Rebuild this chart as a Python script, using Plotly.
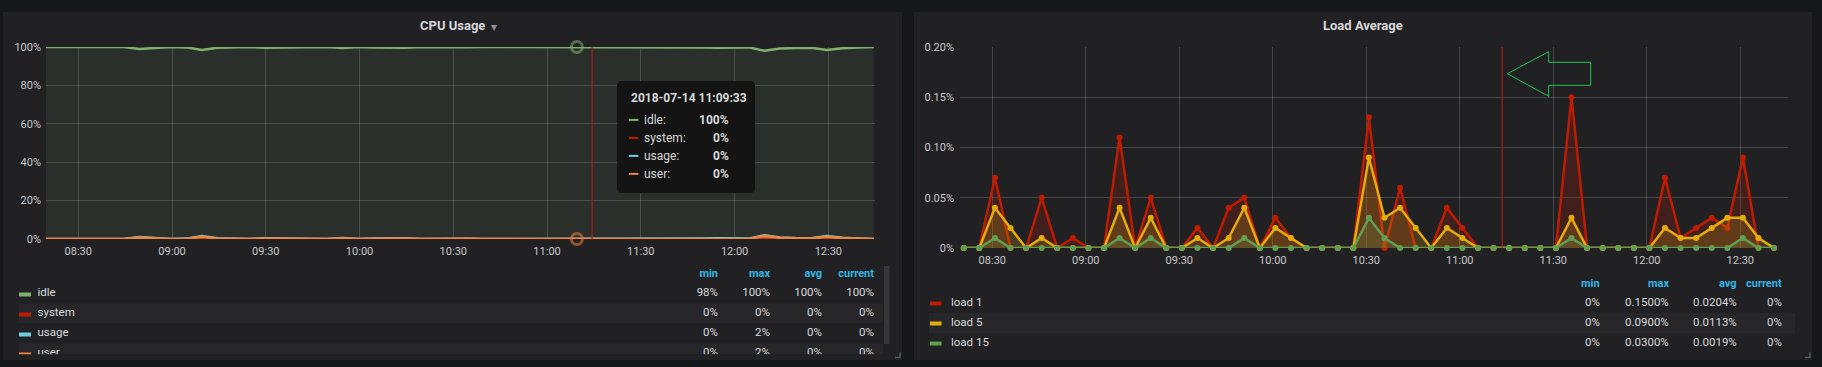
import plotly.graph_objects as go
import pandas as pd

W, H = 1822, 367

# ---------------- data ----------------
cpu_times = pd.date_range("2018-07-14 08:19:33", periods=54, freq="5min")
cpu_idle = [100, 100, 100, 99.7, 99.7, 100, 99.0, 99.5, 100, 99.8,
            98.5, 99.6, 99.8, 100, 99.6, 99.7, 99.8, 100, 100, 99.5,
            100, 99.8, 99.7, 99.6, 100, 99.9, 100, 99.9, 100, 100,
            100, 100, 100, 100, 100, 99.9, 99.8, 99.8, 99.9, 100,
            100, 99.8, 99.7, 99.6, 99.7, 99.8, 98.0, 99.2, 99.5, 99.6,
            98.5, 99.4, 99.7, 100]
cpu_system = [0, 0, 0, 0.1, 0.1, 0, 0.2, 0.1, 0, 0.1,
              0.3, 0.1, 0.1, 0, 0.1, 0.1, 0.1, 0, 0, 0.1,
              0, 0.1, 0.1, 0.1, 0, 0, 0, 0, 0, 0,
              0, 0, 0, 0, 0, 0, 0.1, 0.1, 0, 0,
              0, 0.1, 0.1, 0.1, 0.1, 0.1, 0.4, 0.2, 0.1, 0.1,
              0.3, 0.1, 0.1, 0]
cpu_usage = [0, 0, 0, 0.3, 0.3, 0, 1.0, 0.5, 0, 0.2,
             1.5, 0.4, 0.2, 0, 0.4, 0.3, 0.2, 0, 0, 0.5,
             0, 0.2, 0.3, 0.4, 0, 0.1, 0, 0.1, 0, 0,
             0, 0, 0, 0, 0, 0.1, 0.2, 0.2, 0.1, 0,
             0, 0.2, 0.3, 0.4, 0.3, 0.2, 2.0, 0.8, 0.5, 0.4,
             1.5, 0.6, 0.3, 0]
cpu_user = [0, 0, 0, 0.2, 0.2, 0, 0.8, 0.4, 0, 0.1,
            1.2, 0.3, 0.1, 0, 0.3, 0.2, 0.1, 0, 0, 0.4,
            0, 0.1, 0.2, 0.3, 0, 0.1, 0, 0.1, 0, 0,
            0, 0, 0, 0, 0, 0.1, 0.1, 0.1, 0.1, 0,
            0, 0.1, 0.2, 0.3, 0.2, 0.1, 1.6, 0.6, 0.4, 0.3,
            1.2, 0.5, 0.2, 0]

load_times = pd.date_range("2018-07-14 08:20:50", periods=53, freq="5min")
load1 = [0, 0, 0.07, 0, 0, 0.05, 0, 0.01, 0, 0,
         0.11, 0, 0.05, 0, 0, 0.02, 0, 0.04, 0.05, 0,
         0.03, 0.01, 0, 0, 0, 0, 0.13, 0, 0.06, 0,
         0, 0.04, 0.02, 0, 0, 0, 0, 0, 0, 0.15,
         0, 0, 0, 0, 0, 0.07, 0.01, 0.02, 0.03, 0.02,
         0.09, 0, 0]
load5 = [0, 0, 0.04, 0.02, 0, 0.01, 0, 0, 0, 0,
         0.04, 0, 0.03, 0, 0, 0.01, 0, 0.01, 0.04, 0,
         0.02, 0.01, 0, 0, 0, 0, 0.09, 0.03, 0.04, 0.02,
         0, 0.02, 0.01, 0, 0, 0, 0, 0, 0, 0.03,
         0, 0, 0, 0, 0, 0.02, 0.01, 0.01, 0.02, 0.03,
         0.03, 0.01, 0]
load15 = [0, 0, 0.01, 0, 0, 0, 0, 0, 0, 0,
          0.01, 0, 0.01, 0, 0, 0, 0, 0, 0.01, 0,
          0, 0, 0, 0, 0, 0, 0.03, 0.01, 0, 0,
          0, 0, 0, 0, 0, 0, 0, 0, 0, 0.01,
          0, 0, 0, 0, 0, 0, 0, 0, 0, 0,
          0.01, 0, 0]

cpu_names = ["idle", "system", "usage", "user"]
cpu_series = [cpu_idle, cpu_system, cpu_usage, cpu_user]
cpu_colors = ["#7EB26D", "#BF1B00", "#6ED0E0", "#EF843C"]
load_names = ["load 1", "load 5", "load 15"]
load_series = [load1, load5, load15]
load_colors = ["#BF1B00", "#E5AC0E", "#629E51"]

cpu_yticks = [0, 20, 40, 60, 80, 100]
cpu_yticklabels = ["0%", "20%", "40%", "60%", "80%", "100%"]
load_yticks = [0, 0.05, 0.10, 0.15, 0.20]
load_yticklabels = ["0%", "0.05%", "0.10%", "0.15%", "0.20%"]
stat_headers = ["min", "max", "avg", "current"]

hover_index = 34
crosshair_left = "2018-07-14 11:14:24"
crosshair_right = "2018-07-14 11:13:36"

# ---------------- style ----------------
FONT = "Roboto, Helvetica, Arial, sans-serif"
PAGE_BG = "#161719"
PANEL_BG = "#212124"
ROW_BG = "#27272a"
TXT = "#d8d9da"
TICK = "#c8c8c8"
GRID = "rgba(255,255,255,0.17)"
HEAD = "#33b5e5"


def px(x):
    return x / W


def py(y):
    return 1 - y / H


def rgba(hexc, a):
    h = hexc.lstrip("#")
    return "rgba(%d,%d,%d,%s)" % (int(h[0:2], 16), int(h[2:4], 16), int(h[4:6], 16), a)


fig = go.Figure()

# CPU traces
for name, ser, col in zip(cpu_names, cpu_series, cpu_colors):
    fig.add_trace(go.Scatter(x=cpu_times, y=ser, mode="lines", name=name,
                             line=dict(color=col, width=2.5), fill="tozeroy",
                             fillcolor=rgba(col, 0.1), xaxis="x", yaxis="y",
                             hoverinfo="skip", showlegend=False))
# hover markers
for ser, col in [(cpu_idle, cpu_colors[0]), (cpu_user, cpu_colors[3])]:
    fig.add_trace(go.Scatter(x=[cpu_times[hover_index]], y=[ser[hover_index]], mode="markers",
                             marker=dict(symbol="circle-open", size=11, color=rgba(col, 0.55),
                                         line=dict(color=rgba(col, 0.55), width=3)),
                             xaxis="x", yaxis="y", hoverinfo="skip", showlegend=False,
                             cliponaxis=False))

# Load traces
for name, ser, col in zip(load_names, load_series, load_colors):
    fig.add_trace(go.Scatter(x=load_times, y=ser, mode="lines+markers", name=name,
                             line=dict(color=col, width=2.5),
                             marker=dict(color=col, size=6),
                             fill="tozeroy", fillcolor=rgba(col, 0.2),
                             xaxis="x2", yaxis="y2", hoverinfo="skip", showlegend=False,
                             cliponaxis=False))

shapes = []
annotations = []

# panels
for x0, x1 in [(3, 902), (914, 1812)]:
    shapes.append(dict(type="rect", xref="paper", yref="paper", x0=px(x0), x1=px(x1),
                       y0=py(360), y1=py(12), fillcolor=PANEL_BG, line=dict(width=0), layer="below"))

# titles
annotations.append(dict(text="<b>CPU Usage</b>", x=px(452), y=py(25.5), xref="paper", yref="paper",
                        showarrow=False, font=dict(family=FONT, size=13, color=TXT),
                        xanchor="center", yanchor="middle"))
annotations.append(dict(text="▾", x=px(494), y=py(26.5), xref="paper", yref="paper",
                        showarrow=False, font=dict(family=FONT, size=12, color="#8e8e8e"),
                        xanchor="center", yanchor="middle"))
annotations.append(dict(text="<b>Load Average</b>", x=px(1363), y=py(25.5), xref="paper", yref="paper",
                        showarrow=False, font=dict(family=FONT, size=13, color=TXT),
                        xanchor="center", yanchor="middle"))

# crosshairs
shapes.append(dict(type="line", xref="x", yref="y domain", x0=crosshair_left, x1=crosshair_left,
                   y0=0, y1=1, line=dict(color="#c81414", width=1), layer="above"))
shapes.append(dict(type="line", xref="x2", yref="y2 domain", x0=crosshair_right, x1=crosshair_right,
                   y0=0, y1=1, line=dict(color="#c81414", width=1), layer="above"))

# green arrow annotation (right panel)
arrow_pts = [(1507.3, 73.7), (1548.7, 51.7), (1548.7, 62.3), (1590.7, 62.3),
             (1590.7, 85.3), (1548.7, 85.3), (1548.7, 96.3)]
path = "M " + " L ".join("%.5f %.5f" % (px(a), py(b)) for a, b in arrow_pts) + " Z"
shapes.append(dict(type="path", xref="paper", yref="paper", path=path,
                   line=dict(color="#1fc24e", width=1), fillcolor="rgba(0,0,0,0)", layer="above"))

# tooltip
tx0, tx1, ty0, ty1, r = 617, 755, 81, 193, 5
tpath = ("M %f %f L %f %f Q %f %f %f %f L %f %f Q %f %f %f %f L %f %f Q %f %f %f %f L %f %f Q %f %f %f %f Z" % (
    px(tx0 + r), py(ty0), px(tx1 - r), py(ty0), px(tx1), py(ty0), px(tx1), py(ty0 + r),
    px(tx1), py(ty1 - r), px(tx1), py(ty1), px(tx1 - r), py(ty1),
    px(tx0 + r), py(ty1), px(tx0), py(ty1), px(tx0), py(ty1 - r),
    px(tx0), py(ty0 + r), px(tx0), py(ty0), px(tx0 + r), py(ty0)))
shapes.append(dict(type="path", xref="paper", yref="paper", path=tpath,
                   fillcolor="#141414", line=dict(width=0), layer="above"))
annotations.append(dict(text="<b>%s</b>" % cpu_times[hover_index].strftime("%Y-%m-%d %H:%M:%S"),
                        x=px(629), y=py(98), xref="paper", yref="paper", showarrow=False,
                        xanchor="left", yanchor="middle", font=dict(family=FONT, size=12, color=TXT)))
for i, (name, ser, col) in enumerate(zip(cpu_names, cpu_series, cpu_colors)):
    ry = 119.7 + 18 * i
    shapes.append(dict(type="rect", xref="paper", yref="paper", x0=px(629), x1=px(638.3),
                       y0=py(ry + 1.2), y1=py(ry - 0.8), fillcolor=col, line=dict(width=0), layer="above"))
    annotations.append(dict(text=name + ":", x=px(641.5), y=py(ry), xref="paper", yref="paper",
                            showarrow=False, xanchor="left", yanchor="middle",
                            font=dict(family=FONT, size=12, color=TXT)))
    annotations.append(dict(text="<b>%.0f%%</b>" % ser[hover_index], x=px(731), y=py(ry),
                            xref="paper", yref="paper", showarrow=False, xanchor="right",
                            yanchor="middle", font=dict(family=FONT, size=12, color=TXT)))


def cpu_fmt(v):
    return "%.0f%%" % v


def load_fmt(v):
    return "0%" if v == 0 else "%.4f%%" % v


def stats(ser):
    return [min(ser), max(ser), sum(ser) / len(ser), ser[-1]]


# ---------- left legend (clipped subplot x3/y3, pixel coordinates) ----------
left_cols = [718, 770, 822, 874]
left_rows = [293.3, 313.3, 333.3, 353.3]
fig.add_trace(go.Scatter(x=left_cols, y=[274.3] * 4, mode="text", text=["<b>%s</b>" % h for h in stat_headers],
                         textposition="middle left", textfont=dict(family=FONT, size=11, color=HEAD),
                         xaxis="x3", yaxis="y3", hoverinfo="skip", showlegend=False))
for i, (name, ser, col) in enumerate(zip(cpu_names, cpu_series, cpu_colors)):
    ry = left_rows[i]
    if i % 2 == 1:
        shapes.append(dict(type="rect", xref="x3", yref="y3", x0=19, x1=883, y0=ry - 9.8, y1=ry + 10.2,
                           fillcolor=ROW_BG, line=dict(width=0), layer="below"))
    shapes.append(dict(type="rect", xref="x3", yref="y3", x0=19, x1=31, y0=ry - 0.8, y1=ry + 3.2,
                       fillcolor=col, line=dict(width=0), layer="above"))
    fig.add_trace(go.Scatter(x=[37.5], y=[ry], mode="text", text=[name], textposition="middle right",
                             textfont=dict(family=FONT, size=11.5, color=TXT),
                             xaxis="x3", yaxis="y3", hoverinfo="skip", showlegend=False))
    fig.add_trace(go.Scatter(x=left_cols, y=[ry] * 4, mode="text", text=[cpu_fmt(v) for v in stats(ser)],
                             textposition="middle left", textfont=dict(family=FONT, size=11.5, color=TXT),
                             xaxis="x3", yaxis="y3", hoverinfo="skip", showlegend=False))
# scrollbar
shapes.append(dict(type="rect", xref="paper", yref="paper", x0=px(884), x1=px(889.5), y0=py(344), y1=py(266),
                   fillcolor="#35353a", line=dict(width=0), layer="above"))

# ---------- right legend ----------
right_cols = [1602, 1671, 1739, 1784]
right_rows = [302.3, 322.3, 342.3]
for c, h in zip(right_cols, stat_headers):
    annotations.append(dict(text="<b>%s</b>" % h, x=px(c), y=py(283.3), xref="paper", yref="paper",
                            showarrow=False, xanchor="right", yanchor="middle",
                            font=dict(family=FONT, size=11, color=HEAD)))
for i, (name, ser, col) in enumerate(zip(load_names, load_series, load_colors)):
    ry = right_rows[i]
    if i % 2 == 1:
        shapes.append(dict(type="rect", xref="paper", yref="paper", x0=px(929), x1=px(1795),
                           y0=py(ry + 10.7), y1=py(ry - 9.3), fillcolor=ROW_BG, line=dict(width=0),
                           layer="below"))
    shapes.append(dict(type="rect", xref="paper", yref="paper", x0=px(930), x1=px(941.5),
                       y0=py(ry + 3.2), y1=py(ry - 0.8), fillcolor=col, line=dict(width=0), layer="above"))
    annotations.append(dict(text=name, x=px(949), y=py(ry), xref="paper", yref="paper", showarrow=False,
                            xanchor="left", yanchor="middle", font=dict(family=FONT, size=11.5, color=TXT)))
    for c, v in zip(right_cols, stats(ser)):
        annotations.append(dict(text=load_fmt(v), x=px(c), y=py(ry), xref="paper", yref="paper",
                                showarrow=False, xanchor="right", yanchor="middle",
                                font=dict(family=FONT, size=11.5, color=TXT)))

# resize handles
for hx in [900, 1810]:
    shapes.append(dict(type="path", xref="paper", yref="paper",
                       path="M %f %f L %f %f L %f %f" % (px(hx), py(352.5), px(hx), py(357.5), px(hx - 5), py(357.5)),
                       line=dict(color="#5a5a5e", width=1.5), layer="above"))

axis_common = dict(showline=False, zeroline=False, ticks="", fixedrange=True, automargin=False,
                   gridcolor=GRID, gridwidth=1,
                   tickfont=dict(family=FONT, size=11, color=TICK))

fig.update_layout(
    width=W, height=H, autosize=False,
    margin=dict(l=0, r=0, t=0, b=0, pad=0, autoexpand=False),
    paper_bgcolor=PAGE_BG, plot_bgcolor="rgba(0,0,0,0)",
    hovermode=False, showlegend=False,
    font=dict(family=FONT, color=TXT),
    xaxis=dict(domain=[px(46), px(875)], anchor="y", type="date",
               range=["2018-07-14 08:19:40", "2018-07-14 12:44:56"],
               dtick=1800000, tickformat="%H:%M", showgrid=True, ticklabelstandoff=4, **axis_common),
    yaxis=dict(domain=[py(239), py(47)], anchor="x", range=[0, 100], tickvals=cpu_yticks,
               ticktext=cpu_yticklabels, showgrid=True, ticklabelstandoff=4, **axis_common),
    xaxis2=dict(domain=[px(960), px(1788)], anchor="y2", type="date",
                range=["2018-07-14 08:19:38", "2018-07-14 12:45:18"],
                dtick=1800000, tickformat="%H:%M", showgrid=True, ticklabelstandoff=4, **axis_common),
    yaxis2=dict(domain=[py(248), py(47)], anchor="x2", range=[0, 0.2], tickvals=load_yticks,
                ticktext=load_yticklabels, showgrid=True, ticklabelstandoff=5, **axis_common),
    xaxis3=dict(domain=[0, px(902)], anchor="y3", range=[0, 902], visible=False, fixedrange=True,
                automargin=False),
    yaxis3=dict(domain=[py(354.3), py(262)], anchor="x3", range=[354.3, 262], visible=False, fixedrange=True,
                automargin=False),
    shapes=shapes, annotations=annotations,
)

post = (
    "var st=document.createElement('style');"
    "st.innerHTML='html,body{margin:0;padding:0;overflow:hidden;width:%dpx;height:%dpx;background:%s}';"
    "document.head.appendChild(st);"
    "var gd=document.getElementById('{plot_id}');"
    "gd.style.position='fixed';gd.style.left='0px';gd.style.top='0px';" % (W, H, PAGE_BG)
)
fig.write_html("out.html", config={"displayModeBar": False, "staticPlot": True, "responsive": False},
               post_script=post)
